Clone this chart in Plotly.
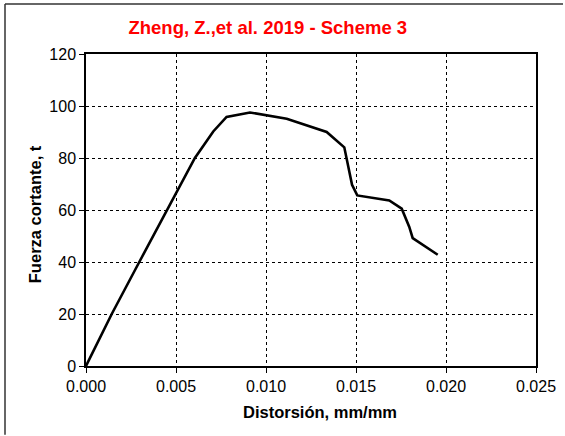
import plotly.graph_objects as go

distorsion = [0.0, 0.00143, 0.00296, 0.00452, 0.00605, 0.00707, 0.00781,
              0.00911, 0.01115, 0.01337, 0.01435, 0.01478, 0.01507, 0.01685, 0.01754,
              0.01796, 0.01815, 0.01954]
fuerza = [0.0, 20.0, 40.0, 60.0, 80.0, 90.2, 95.8,
          97.5, 95.1, 90.0, 84.1, 69.7, 65.6, 63.7, 60.5,
          53.5, 49.2, 42.8]

x_ticks = [0.0, 0.005, 0.010, 0.015, 0.020, 0.025]
x_tick_text = ["0.000", "0.005", "0.010", "0.015", "0.020", "0.025"]
y_ticks = [0, 20, 40, 60, 80, 100, 120]

fig = go.Figure()
fig.add_trace(go.Scatter(x=distorsion, y=fuerza, mode="lines",
                         line=dict(color="black", width=2.6), showlegend=False))

font_family = "Liberation Sans, Arial, sans-serif"
fig.update_layout(
    width=565, height=436,
    margin=dict(l=86, r=29, t=54, b=70, autoexpand=False),
    paper_bgcolor="white", plot_bgcolor="white",
    title=dict(text="<b>Zheng, Z.,et al. 2019 - Scheme 3</b>",
               font=dict(family=font_family, size=18.5, color="#FF0000"),
               x=0.474, xanchor="center", y=0.936, yanchor="middle"),
    font=dict(family=font_family, color="black"),
    xaxis=dict(range=[0, 0.025], tickvals=x_ticks, ticktext=x_tick_text,
               showgrid=True, gridcolor="black", griddash="dot", gridwidth=1,
               showline=True, linecolor="black", linewidth=1.5, mirror=True,
               ticks="outside", ticklen=5, tickcolor="black",
               tickfont=dict(size=16, color="black"), zeroline=False),
    yaxis=dict(range=[0, 120], tickvals=y_ticks,
               showgrid=True, gridcolor="black", griddash="dot", gridwidth=1,
               showline=True, linecolor="black", linewidth=1.5, mirror=True,
               ticks="outside", ticklen=5, tickcolor="black",
               tickfont=dict(size=16, color="black"), zeroline=False),
    annotations=[
        dict(text="<b>Distorsión, mm/mm</b>", xref="paper", yref="paper",
             x=0.519, y=-0.147, xanchor="center", yanchor="middle", showarrow=False,
             font=dict(family=font_family, size=16.5, color="black")),
        dict(text="<b>Fuerza cortante, t</b>", xref="paper", yref="paper",
             x=-0.113, y=0.487, xanchor="center", yanchor="middle", showarrow=False,
             textangle=-90, font=dict(family=font_family, size=16.5, color="black")),
    ],
    shapes=[
        dict(type="line", xref="paper", yref="paper",
             x0=-0.18, x1=1.06, y0=1.1603, y1=1.1603,
             line=dict(color="#333", width=1.5)),
        dict(type="line", xref="paper", yref="paper",
             x0=-0.18, x1=-0.18, y0=-0.22, y1=1.1603,
             line=dict(color="#333", width=1.5)),
    ],
)

fig.write_html("out.html", config={"displayModeBar": False},
               post_script="document.body.style.margin='0';"
                           "document.body.style.overflow='hidden';"
                           "document.documentElement.style.overflow='hidden';")
